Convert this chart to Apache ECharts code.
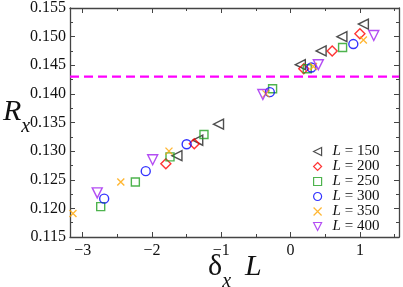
<!DOCTYPE html>
<html><head><meta charset="utf-8">
<script src="https://cdn.jsdelivr.net/npm/echarts@6/dist/echarts.min.js"></script>
<style>html,body{margin:0;padding:0;background:#fff}#c{width:403px;height:287px}</style>
</head><body><div id="c"></div>
<script>
const xL150 = [-1.64, -1.34, -1.04, 0.14, 0.44, 0.74, 1.05];
const yL150 = [0.1292, 0.1319, 0.1347, 0.1451, 0.1475, 0.1500, 0.1522];
const xL200 = [-1.80, -1.39, 0.19, 0.60, 1.00];
const yL200 = [0.1278, 0.1313, 0.1444, 0.1475, 0.1505];
const xL250 = [-2.74, -2.24, -1.74, -1.25, -0.26, 0.24, 0.75];
const yL250 = [0.1203, 0.1246, 0.1290, 0.1329, 0.1409, 0.1444, 0.1481];
const xL300 = [-2.69, -2.09, -1.50, -0.30, 0.30, 0.905];
const yL300 = [0.1217, 0.1265, 0.1312, 0.1403, 0.1446, 0.1487];
const xL350 = [-3.14, -2.45, -1.755, -0.355, 0.33, 1.05];
const yL350 = [0.1191, 0.1246, 0.1300, 0.1400, 0.1448, 0.1494];
const xL400 = [-2.79, -1.99, -0.40, 0.40, 1.20];
const yL400 = [0.1227, 0.1285, 0.1399, 0.1451, 0.1502];
const seriesNames = ['L = 150', 'L = 200', 'L = 250', 'L = 300', 'L = 350', 'L = 400'];
const refLine = 0.143;
const xTicks = [-3, -2, -1, 0, 1];
const xMinorTicks = [-2.5, -1.5, -0.5, 0.5, 1.5];
const xMin = -3.183, xMax = 1.564;
const yMin = 0.115, yMax = 0.155, yStep = 0.005;

const zip = (a, b) => a.map((v, i) => [v, b[i]]);
const xs = [xL150, xL200, xL250, xL300, xL350, xL400];
const ys = [yL150, yL200, yL250, yL300, yL350, yL400];
const colors = ['#222222', '#ff0000', '#22a022', '#0000ff', '#ffa500', '#a020f0'];
const symbols = [
  'path://M10,0L0,5L10,10Z',
  'diamond', 'rect', 'circle',
  'path://M0,0L10,10M0,10L10,0',
  'path://M0,0L10,0L5,10Z'
];
const sizes = [10, 10, 8, 9, 7, 10];

const axisCol = '#444';
const font = '"Liberation Serif", "DejaVu Serif", serif';

const series = seriesNames.map((n, i) => ({
  name: n, type: 'scatter', xAxisIndex: 0, yAxisIndex: 0,
  data: zip(xs[i], ys[i]),
  symbol: symbols[i], symbolSize: sizes[i],
  itemStyle: { color: 'rgba(0,0,0,0)', borderColor: colors[i], borderWidth: 1.4 },
  emphasis: { disabled: true }
}));
series.push({
  type: 'line', xAxisIndex: 0, yAxisIndex: 0, silent: true, symbol: 'none',
  data: [[xMin, refLine], [xMax, refLine]],
  lineStyle: { color: '#ff00ff', type: [9, 5], width: 2.2 }
});

function xAxis(pos, ticks, len, labels, line) {
  return {
    type: 'value', position: pos, min: xMin, max: xMax,
    axisLine: { show: line, onZero: false, lineStyle: { color: axisCol, width: 1.3 } },
    axisTick: { show: true, inside: true, length: len, customValues: ticks, lineStyle: { color: axisCol, width: 1 } },
    axisLabel: { show: labels, customValues: ticks, margin: 6, color: '#111', fontFamily: font, fontSize: 16,
      formatter: v => (v < 0 ? '\u2212' + Math.abs(v) : String(v)) },
    splitLine: { show: false }
  };
}
function yAxis(pos, labels) {
  return {
    type: 'value', position: pos, min: yMin, max: yMax, interval: yStep,
    axisLine: { show: true, onZero: false, lineStyle: { color: axisCol, width: 1.3 } },
    axisTick: { show: true, inside: true, length: 5, lineStyle: { color: axisCol, width: 1 } },
    minorTick: { show: true, splitNumber: 2, length: 3, lineStyle: { color: axisCol, width: 1 } },
    axisLabel: { show: labels, margin: 4, color: '#111', fontFamily: font, fontSize: 16,
      formatter: v => v.toFixed(3) },
    splitLine: { show: false }, minorSplitLine: { show: false }
  };
}

const legendData = seriesNames.map((n, i) => ({
  name: n, icon: symbols[i],
  itemStyle: { color: 'rgba(0,0,0,0)', borderColor: colors[i], borderWidth: 1.2 }
}));

const chart = echarts.init(document.getElementById('c'), null, { renderer: 'canvas' });
chart.setOption({
  animation: false,
  backgroundColor: '#fff',
  grid: { left: 70, right: 4, top: 7, bottom: 50 },
  xAxis: [
    xAxis('bottom', xTicks, 5, true, true),
    xAxis('bottom', xMinorTicks, 3, false, false),
    xAxis('top', xTicks, 5, false, true),
    xAxis('top', xMinorTicks, 3, false, false)
  ],
  yAxis: [yAxis('left', true), yAxis('right', false)],
  legend: {
    data: legendData, orient: 'vertical', left: 313, top: 144,
    itemWidth: 8, itemHeight: 8, itemGap: 0, padding: 0,
    textStyle: { color: '#111', fontFamily: font, fontSize: 15, lineHeight: 13.7, padding: [0, 0, 0, 6],
      rich: { i: { fontStyle: 'italic', fontFamily: font, fontSize: 15, lineHeight: 13.7, color: '#111' },
              n: { fontFamily: font, fontSize: 15, lineHeight: 13.7, color: '#111' } } },
    formatter: n => '{i|L}{n| = ' + n.split('= ')[1] + '}'
  },
  graphic: [
    { type: 'text', left: 3, top: 97, style: { text: '{r|R}{s|x}', rich: {
      r: { fontFamily: font, fontStyle: 'italic', fontSize: 30, fill: '#111' },
      s: { fontFamily: font, fontStyle: 'italic', fontSize: 20, fill: '#111', padding: [30, 0, 0, 0] } } } },
    { type: 'text', left: 208, top: 252, style: { text: '{d|\u03b4}{s|x}{l|L}', rich: {
      d: { fontFamily: font, fontSize: 30, fill: '#111' },
      s: { fontFamily: font, fontStyle: 'italic', fontSize: 20, fill: '#111', padding: [30, 14, 0, 0] },
      l: { fontFamily: font, fontStyle: 'italic', fontSize: 30, fill: '#111' } } } }
  ],
  series: series
});
</script></body></html>
